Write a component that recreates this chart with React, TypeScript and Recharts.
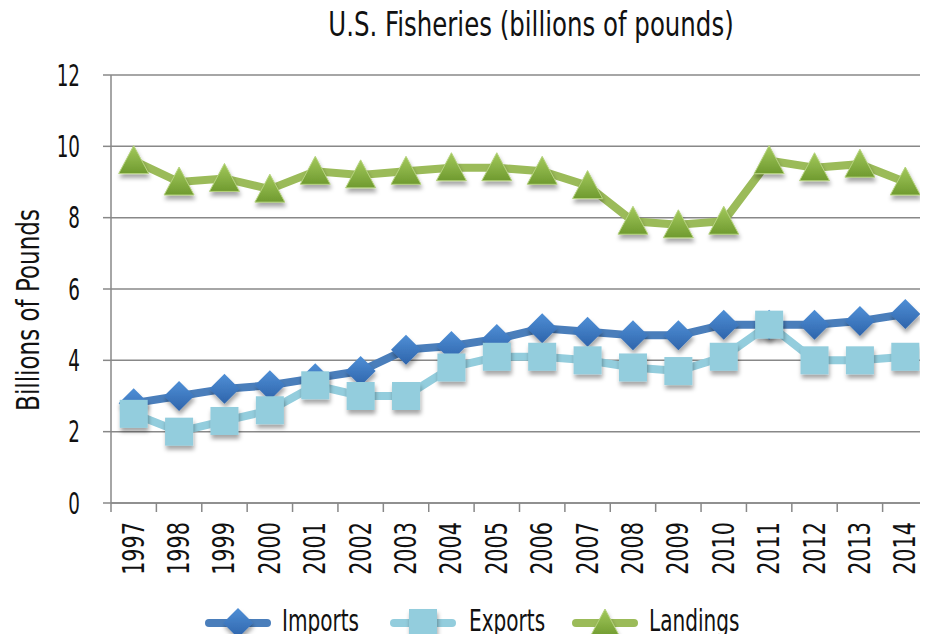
import React from "react";
import { LineChart, Line, XAxis, YAxis, CartesianGrid, Legend } from "recharts";

const years = [
  "1997", "1998", "1999", "2000", "2001", "2002", "2003", "2004", "2005",
  "2006", "2007", "2008", "2009", "2010", "2011", "2012", "2013", "2014",
];
const imports = [2.8, 3.0, 3.2, 3.3, 3.5, 3.7, 4.3, 4.4, 4.6, 4.9, 4.8, 4.7, 4.7, 5.0, 5.0, 5.0, 5.1, 5.3];
const exportsData = [2.5, 2.0, 2.3, 2.6, 3.3, 3.0, 3.0, 3.8, 4.1, 4.1, 4.0, 3.8, 3.7, 4.1, 5.0, 4.0, 4.0, 4.1];
const landings = [9.6, 9.0, 9.1, 8.8, 9.3, 9.2, 9.3, 9.4, 9.4, 9.3, 8.9, 7.9, 7.8, 7.9, 9.6, 9.4, 9.5, 9.0];
const yTicks = [0, 2, 4, 6, 8, 10, 12];

const data = years.map((year, i) => ({
  year,
  imports: imports[i],
  exports: exportsData[i],
  landings: landings[i],
}));

const FONT = '"DejaVu Sans Condensed", "DejaVu Sans", sans-serif';
const AXIS = "#888888";
const IMP_LINE = "#4a7ebb";
const EXP_LINE = "#93cddd";
const LAND_LINE = "#9bbb59";
const PLOT_W = 928 - 111;

const Diamond = ({ cx, cy }: any) => (
  <polygon
    points={`${cx},${cy - 15} ${cx + 15},${cy} ${cx},${cy + 15} ${cx - 15},${cy}`}
    fill="url(#gImp)"
    filter="url(#shadow)"
  />
);

const Square = ({ cx, cy }: any) => (
  <rect x={cx - 14} y={cy - 14} width={28} height={28} fill={EXP_LINE} filter="url(#shadow)" />
);

const Triangle = ({ cx, cy }: any) => (
  <polygon
    points={`${cx},${cy - 15} ${cx + 15},${cy + 13} ${cx - 15},${cy + 13}`}
    fill="url(#gLand)"
    stroke="#b5d27e"
    strokeWidth={1}
    filter="url(#shadow)"
  />
);

const YearTick = ({ x, y, payload, index }: any) => {
  const half = PLOT_W / years.length / 2;
  return (
    <g>
      <line x1={x - half} y1={y - 8} x2={x - half} y2={y + 1} stroke={AXIS} strokeWidth={1.5} />
      {index === years.length - 1 && (
        <line x1={x + half} y1={y - 8} x2={x + half} y2={y + 1} stroke={AXIS} strokeWidth={1.5} />
      )}
      <g transform={`translate(${x + 10}, ${y + 11}) rotate(-90) scale(0.77, 1)`}>
        <text x={0} y={0} textAnchor="end" fontFamily={FONT} fontSize={30} fill="#111">
          {payload.value}
        </text>
      </g>
    </g>
  );
};

const ValueTick = ({ x, y, payload }: any) => (
  <g transform={`translate(${x}, ${y}) scale(0.68, 1)`}>
    <text x={0} y={0} dy="0.36em" textAnchor="end" fontFamily={FONT} fontSize={30} fill="#111">
      {payload.value}
    </text>
  </g>
);

const legendItems = [
  { name: "Imports", color: IMP_LINE, marker: "diamond", lineX: 205, textX: 282 },
  { name: "Exports", color: EXP_LINE, marker: "square", lineX: 390, textX: 469 },
  { name: "Landings", color: LAND_LINE, marker: "triangle", lineX: 572, textX: 649 },
];

const LegendContent = () => (
  <svg width={928} height={38} style={{ display: "block", overflow: "visible" }}>
    {legendItems.map((it) => {
      const cx = it.lineX + 33;
      const cy = 19;
      return (
        <g key={it.name}>
          <line x1={it.lineX + 4} y1={cy} x2={it.lineX + 62} y2={cy} stroke={it.color} strokeWidth={8} strokeLinecap="round" />
          {it.marker === "diamond" && <Diamond cx={cx} cy={cy} />}
          {it.marker === "square" && <Square cx={cx} cy={cy} />}
          {it.marker === "triangle" && <Triangle cx={cx} cy={cy + 1} />}
          <g transform={`translate(${it.textX}, 27) scale(0.72, 1)`}>
            <text x={0} y={0} fontFamily={FONT} fontSize={31} fill="#111">
              {it.name}
            </text>
          </g>
        </g>
      );
    })}
  </svg>
);

export default function App() {
  return (
    <div style={{ margin: -8, position: "relative", width: 928, height: 642, background: "#fff", overflow: "hidden" }}>
      <svg width={0} height={0} style={{ position: "absolute" }}>
        <defs>
          <filter id="shadow" x="-50%" y="-50%" width="200%" height="200%">
            <feDropShadow dx={1} dy={4} stdDeviation={2} floodColor="#000" floodOpacity={0.35} />
          </filter>
          <linearGradient id="gImp" x1="0" y1="0" x2="0" y2="1">
            <stop offset="0%" stopColor="#4f8fd6" />
            <stop offset="100%" stopColor="#2e64ab" />
          </linearGradient>
          <linearGradient id="gLand" x1="0" y1="0" x2="0" y2="1">
            <stop offset="0%" stopColor="#a3c95c" />
            <stop offset="100%" stopColor="#6f9a2f" />
          </linearGradient>
        </defs>
      </svg>
      <div
        style={{
          position: "absolute",
          top: 4,
          left: 531,
          transform: "translateX(-50%) scaleX(0.8)",
          whiteSpace: "nowrap",
          fontFamily: FONT,
          fontSize: 34,
          color: "#111",
          zIndex: 2,
        }}
      >
        U.S. Fisheries (billions of pounds)
      </div>
      <div
        style={{
          position: "absolute",
          left: 28,
          top: 310,
          transform: "translate(-50%, -50%) rotate(-90deg) scaleX(0.8)",
          whiteSpace: "nowrap",
          fontFamily: FONT,
          fontSize: 32,
          color: "#111",
          zIndex: 2,
        }}
      >
        Billions of Pounds
      </div>
      <LineChart
        width={928}
        height={642}
        data={data}
        margin={{ top: 75, right: 0, bottom: 0, left: 0 }}
      >
        <CartesianGrid vertical={false} stroke={AXIS} strokeWidth={1.5} />
        <XAxis
          dataKey="year"
          scale="band"
          height={101}
          interval={0}
          axisLine={{ stroke: AXIS, strokeWidth: 1.5 }}
          tickLine={false}
          tick={<YearTick />}
        />
        <YAxis
          domain={[0, 12]}
          ticks={yTicks}
          width={111}
          axisLine={{ stroke: AXIS, strokeWidth: 1.5 }}
          tickLine={{ stroke: AXIS, strokeWidth: 1.5 }}
          tickSize={8}
          tickMargin={23}
          tick={<ValueTick />}
        />
        <Line
          dataKey="imports"
          name="Imports"
          stroke={IMP_LINE}
          strokeWidth={8}
          dot={<Diamond />}
          activeDot={false}
          isAnimationActive={false}
        />
        <Line
          dataKey="exports"
          name="Exports"
          stroke={EXP_LINE}
          strokeWidth={8}
          dot={<Square />}
          activeDot={false}
          isAnimationActive={false}
        />
        <Line
          dataKey="landings"
          name="Landings"
          stroke={LAND_LINE}
          strokeWidth={8}
          dot={<Triangle />}
          activeDot={false}
          isAnimationActive={false}
        />
        <Legend verticalAlign="bottom" height={38} content={<LegendContent />} />
      </LineChart>
    </div>
  );
}
